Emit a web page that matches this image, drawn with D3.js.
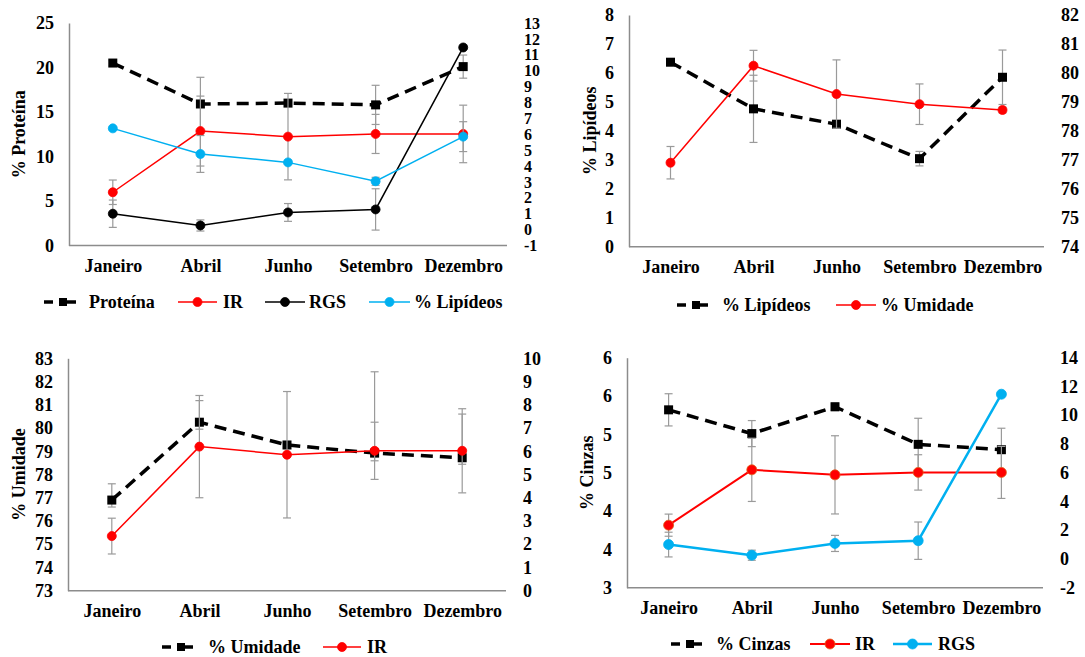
<!DOCTYPE html>
<html>
<head>
<meta charset="utf-8">
<script src="https://cdn.jsdelivr.net/npm/d3@7"></script>
<style>
	body { margin: 0; background: #fff; }
	svg text { font-family: "Liberation Serif", "DejaVu Serif", serif !important; font-weight: bold; fill: #000; }
</style>
</head>
<body>
<script>

// dados
var meses = ['Janeiro', 'Abril', 'Junho', 'Setembro', 'Dezembro'];

var proteina = [20.5, 15.9, 16.0, 15.8, 20.1];
var erroProteina = [0.3, 3.0, 0.3, 2.2, 1.3];

var ir = [2.35, 6.2, 5.85, 6.02, 6.02];
var erroIR = [0.77, 2.2, 2.72, 1.23, 1.81];

var rgs = [1.0, 0.26, 1.08, 1.27, 11.46];
var erroRGS = [0.86, 0.35, 0.56, 1.3, 0.1];

var lipideos = [6.37, 4.76, 4.23, 3.04, 5.85];
var erroLipideos = [0.1, 1.16, 0.1, 0.25, 0.94];

var umidade = [76.9, 80.25, 79.27, 78.92, 78.72];
var erroUmidade = [0.56, 0.53, 1.18, 0.7, 0.1];
// no grafico de umidade x IR as barras sao assimetricas
var erroUmidadeSup = [0.7, 0.93, 0.15, 3.5, 1.88];
var erroUmidadeInf = [0.3, 0.3, 0.15, 0.33, 0.28];

var cinzas = [5.32, 5.01, 5.36, 4.87, 4.8];
var erroCinzas = [0.21, 0.17, 0.05, 0.34, 0.28];

var ticksProteina = [0, 5, 10, 15, 20, 25];
var ticksDir1 = d3.range(-1, 14, 1);
var ticksLipideos = [0, 1, 2, 3, 4, 5, 6, 7, 8];
var ticksUmidadeDir = [74, 75, 76, 77, 78, 79, 80, 81, 82];
var ticksUmidade = [73, 74, 75, 76, 77, 78, 79, 80, 81, 82, 83];
var ticksIR = [0, 1, 2, 3, 4, 5, 6, 7, 8, 9, 10];
var ticksCinzas = [3, 3.5, 4, 4.5, 5, 5.5, 6];
var ticksDir4 = [-2, 0, 2, 4, 6, 8, 10, 12, 14];

(function(){

	var w = 1085;
	var h = 657;
	var fonte = '"Liberation Serif", "DejaVu Serif", serif';

	var azul = '#00b0f0';
	var vermelho = '#ff0000';
	var cinzaEixo = '#8c8c8c';
	var cinzaErro = '#9a9a9a';

	// hifen comum no sinal negativo, como no original
	var inteiro = function(d){ return String(d); };
	var arredonda = function(d){ return d.toFixed(0); };

	var svg = d3.select('body')
		.append('svg')
		.attr('width', w)
		.attr('height', h)
		.attr('font-family', fonte)
		.attr('font-weight', 'bold');

	function serie(nome, valores, mais, menos, eixo, cor, largura, tracejado, marcador, r, borda){
		return { nome: nome, valores: valores, mais: mais, menos: menos || mais, eixo: eixo,
			cor: cor, largura: largura, tracejado: tracejado, marcador: marcador, r: r, borda: borda || cor };
	}

	var paineis = [
		{
			x0: 69, x1: 507, y0: 23, y1: 245.5,
			esq: [0, 25], ticksEsq: ticksProteina, fmtEsq: inteiro,
			dir: [-1, 13], ticksDir: ticksDir1, fmtDir: inteiro, fonteDir: 16,
			titulo: '% Proteína', tituloX: 19,
			legendaY: 302,
			series: [
				serie('Proteína', proteina, erroProteina, null, 'esq', '#000', 3.5, true, 'quad', 4.5),
				serie('IR', ir, erroIR, null, 'dir', vermelho, 1.5, false, 'circ', 4.5),
				serie('RGS', rgs, erroRGS, null, 'dir', '#000', 1.5, false, 'circ', 4.5),
				serie('% Lipídeos', lipideos, erroLipideos, null, 'dir', azul, 1.5, false, 'circ', 4.5)
			],
			legenda: [[44, 76, 89], [178, 217, 223], [265, 305, 309], [369, 410, 414]]
		},
		{
			x0: 629, x1: 1044, y0: 15, y1: 246.7,
			esq: [0, 8], ticksEsq: ticksLipideos, fmtEsq: inteiro,
			dir: [74, 82], ticksDir: ticksUmidadeDir, fmtDir: inteiro, fonteDir: 18,
			titulo: '% Lipídeos', tituloX: 590,
			legendaY: 305,
			series: [
				serie('% Lipídeos', lipideos, erroLipideos, null, 'esq', '#000', 3.5, true, 'quad', 4.5),
				serie('% Umidade', umidade, erroUmidade, null, 'dir', vermelho, 1.5, false, 'circ', 4.5)
			],
			legenda: [[677, 708, 722], [836, 876, 881]]
		},
		{
			x0: 68, x1: 506, y0: 358.3, y1: 590.7,
			esq: [73, 83], ticksEsq: ticksUmidade, fmtEsq: inteiro,
			dir: [0, 10], ticksDir: ticksIR, fmtDir: inteiro, fonteDir: 18,
			titulo: '% Umidade', tituloX: 19,
			legendaY: 647,
			series: [
				serie('% Umidade', umidade, erroUmidadeSup, erroUmidadeInf, 'esq', '#000', 3.5, true, 'quad', 4.5),
				serie('IR', ir, erroIR, null, 'dir', vermelho, 1.5, false, 'circ', 4.5)
			],
			legenda: [[162, 193, 208], [323, 361, 367]]
		},
		{
			x0: 627, x1: 1043, y0: 357.7, y1: 587.7,
			esq: [3, 6], ticksEsq: ticksCinzas, fmtEsq: arredonda,
			dir: [-2, 14], ticksDir: ticksDir4, fmtDir: inteiro, fonteDir: 18,
			titulo: '% Cinzas', tituloX: 587,
			legendaY: 644,
			series: [
				serie('% Cinzas', cinzas, erroCinzas, null, 'esq', '#000', 3.5, true, 'quad', 4.5),
				serie('IR', ir, erroIR, null, 'dir', vermelho, 2, false, 'circ', 5, '#e0601a'),
				serie('RGS', rgs, erroRGS, null, 'dir', azul, 2.5, false, 'circ', 5)
			],
			legenda: [[671, 702, 716], [810, 850, 855], [893, 932, 938]]
		}
	];

	paineis.forEach(function(p){

		var g = svg.append('g');

		var x = d3.scalePoint()
			.domain(meses)
			.range([p.x0, p.x1])
			.padding(0.5);

		var yEsq = d3.scaleLinear().domain(p.esq).range([p.y1, p.y0]);
		var yDir = d3.scaleLinear().domain(p.dir).range([p.y1, p.y0]);

		// eixo esquerdo
		var eixoEsq = g.append('g')
			.attr('transform', 'translate(' + p.x0 + ',0)')
			.call(d3.axisLeft(yEsq).tickValues(p.ticksEsq).tickFormat(p.fmtEsq).tickSize(0).tickPadding(15));
		eixoEsq.attr('font-family', fonte).attr('font-size', 18);
		eixoEsq.select('.domain').attr('stroke', cinzaEixo).attr('stroke-width', 1.5);

		// eixo direito (so os numeros)
		var eixoDir = g.append('g')
			.attr('transform', 'translate(' + p.x1 + ',0)')
			.call(d3.axisRight(yDir).tickValues(p.ticksDir).tickFormat(p.fmtDir).tickSize(0).tickPadding(17));
		eixoDir.attr('font-family', fonte).attr('font-size', p.fonteDir);
		eixoDir.select('.domain').remove();

		// eixo x
		var eixoX = g.append('g')
			.attr('transform', 'translate(0,' + p.y1 + ')')
			.call(d3.axisBottom(x).tickSize(0).tickSizeOuter(0).tickPadding(14));
		eixoX.attr('font-family', fonte).attr('font-size', 18);
		eixoX.select('.domain')
			.attr('d', 'M' + p.x0 + ',0H' + p.x1)
			.attr('stroke', cinzaEixo).attr('stroke-width', 1.5);

		// titulo
		g.append('text')
			.attr('transform', 'translate(' + p.tituloX + ',' + ((p.y0 + p.y1) / 2) + ') rotate(-90)')
			.attr('text-anchor', 'middle')
			.attr('dy', '0.35em')
			.attr('font-size', 18)
			.text(p.titulo);

		p.series.forEach(function(s){
			var y = s.eixo === 'esq' ? yEsq : yDir;
			var idx = d3.range(s.valores.length);

			var linha = d3.line()
				.x(function(i){ return x(meses[i]); })
				.y(function(i){ return y(s.valores[i]); });

			g.append('path')
				.datum(idx)
				.attr('d', linha)
				.attr('fill', 'none')
				.attr('stroke', s.cor)
				.attr('stroke-width', s.largura)
				.attr('stroke-dasharray', s.tracejado ? '12,7' : null);

			// barras de erro
			var eb = g.append('g')
				.attr('stroke', cinzaErro)
				.attr('stroke-width', 1.2);

			eb.selectAll('line.v')
				.data(idx)
				.enter()
				.append('line')
				.attr('class', 'v')
				.attr('x1', function(i){ return x(meses[i]); })
				.attr('x2', function(i){ return x(meses[i]); })
				.attr('y1', function(i){ return y(s.valores[i] + s.mais[i]); })
				.attr('y2', function(i){ return y(s.valores[i] - s.menos[i]); });

			eb.selectAll('line.sup')
				.data(idx)
				.enter()
				.append('line')
				.attr('class', 'sup')
				.attr('x1', function(i){ return x(meses[i]) - 4; })
				.attr('x2', function(i){ return x(meses[i]) + 4; })
				.attr('y1', function(i){ return y(s.valores[i] + s.mais[i]); })
				.attr('y2', function(i){ return y(s.valores[i] + s.mais[i]); });

			eb.selectAll('line.inf')
				.data(idx)
				.enter()
				.append('line')
				.attr('class', 'inf')
				.attr('x1', function(i){ return x(meses[i]) - 4; })
				.attr('x2', function(i){ return x(meses[i]) + 4; })
				.attr('y1', function(i){ return y(s.valores[i] - s.menos[i]); })
				.attr('y2', function(i){ return y(s.valores[i] - s.menos[i]); });

			// marcadores
			if(s.marcador === 'quad'){
				g.selectAll(null)
					.data(idx)
					.enter()
					.append('rect')
					.attr('x', function(i){ return x(meses[i]) - s.r; })
					.attr('y', function(i){ return y(s.valores[i]) - s.r; })
					.attr('width', s.r * 2)
					.attr('height', s.r * 2)
					.attr('fill', s.cor);
			} else {
				g.selectAll(null)
					.data(idx)
					.enter()
					.append('circle')
					.attr('cx', function(i){ return x(meses[i]); })
					.attr('cy', function(i){ return y(s.valores[i]); })
					.attr('r', s.r)
					.attr('fill', s.cor)
					.attr('stroke', s.borda)
					.attr('stroke-width', 0.8);
			}
		});

		// legenda
		p.series.forEach(function(s, k){
			var pos = p.legenda[k];
			var ly = p.legendaY;
			var meio = (pos[0] + pos[1]) / 2;
			var lg = g.append('g');

			if(s.tracejado){
				lg.append('line')
					.attr('x1', pos[0]).attr('x2', pos[0] + 9)
					.attr('y1', ly).attr('y2', ly)
					.attr('stroke', s.cor).attr('stroke-width', s.largura);
				lg.append('line')
					.attr('x1', pos[0] + 18).attr('x2', pos[1])
					.attr('y1', ly).attr('y2', ly)
					.attr('stroke', s.cor).attr('stroke-width', s.largura);
				lg.append('rect')
					.attr('x', pos[0] + 15).attr('y', ly - 4)
					.attr('width', 8).attr('height', 8)
					.attr('fill', s.cor);
			} else {
				lg.append('line')
					.attr('x1', pos[0]).attr('x2', pos[1])
					.attr('y1', ly).attr('y2', ly)
					.attr('stroke', s.cor).attr('stroke-width', s.largura);
				lg.append('circle')
					.attr('cx', meio).attr('cy', ly)
					.attr('r', s.r)
					.attr('fill', s.cor)
					.attr('stroke', s.borda).attr('stroke-width', 0.8);
			}

			lg.append('text')
				.attr('x', pos[2])
				.attr('y', ly)
				.attr('dy', '0.35em')
				.attr('font-size', 18)
				.text(s.nome);
		});

	});

})();

</script>
</body>
</html>
